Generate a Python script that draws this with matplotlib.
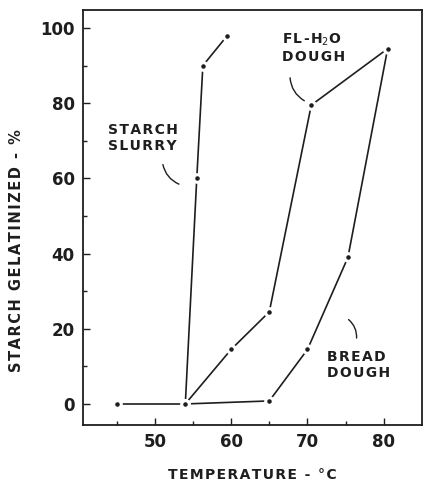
import matplotlib
matplotlib.use("Agg")
import matplotlib.pyplot as plt

# Společný počátek (bez želatinace)
base_t = [45, 54]
base_g = [0, 0]

# Škrobová suspenze
slurry_t = [54, 55.5, 56.3, 59.5]
slurry_g = [0, 60, 90, 98]

# Těsto s vodou
fl_t = [54, 60, 65, 70.5, 80.5]
fl_g = [0, 14.5, 24.5, 79.5, 94.5]

# Chlebové těsto
bread_t = [54, 65, 70, 75.3, 80.5]
bread_g = [0, 0.8, 14.5, 39, 94.5]

INK = '#1e1e1e'
plt.rcParams['font.family'] = ['DejaVu Sans']


def spaced(s):
    """Proloží písmena vlasovou mezerou (jako šablonové písmo)"""
    return '\u200a'.join(s)


fig = plt.figure(figsize=(4.24, 4.86), dpi=100)
ax = fig.add_axes([83 / 424, 1 - 425 / 486, 339 / 424, 415 / 486])

style = dict(color=INK, lw=1.2, marker='o', ms=5.5, mfc=INK,
             mec='white', mew=2.2, zorder=3)
for t, g in [(slurry_t, slurry_g), (fl_t, fl_g), (bread_t, bread_g)]:
    ax.plot(t, g, **style)
ax.plot(base_t, base_g, **style)

ax.set_xlim(40.6, 85)
ax.set_ylim(-5.6, 104.8)
ax.set_xticks([50, 60, 70, 80])
ax.set_xticks([45, 55, 65, 75], minor=True)
ax.set_yticks([0, 20, 40, 60, 80, 100])
ax.set_yticks([10, 30, 50, 70, 90], minor=True)
ax.tick_params(direction='in', length=5, width=1, colors=INK,
               labelsize=12, pad=6)
ax.tick_params(which='minor', direction='in', length=3, width=1, colors=INK)
for lab in ax.get_xticklabels() + ax.get_yticklabels():
    lab.set_fontweight('bold')
for sp in ax.spines.values():
    sp.set_color(INK)
    sp.set_linewidth(1.3)

ax.set_xlabel(spaced('TEMPERATURE - °C'), fontsize=10, fontweight='bold',
              color=INK, labelpad=12)
ax.set_ylabel(spaced('STARCH GELATINIZED - %'), fontsize=10.5,
              fontweight='bold', color=INK)
ax.yaxis.set_label_coords(-0.174, 0.42)

# Popisky křivek
txt = dict(fontsize=10, fontweight='bold', color=INK, linespacing=1.2,
           va='top', ha='left')
ax.text(43.9, 74.8, spaced('STARCH') + '\n' + spaced('SLURRY'), **txt)
ax.text(66.7, 99, spaced('FL-H') + '$_2$' + spaced('O') + '\n'
        + spaced('DOUGH'), **txt)
ax.text(72.5, 14.4, spaced('BREAD') + '\n' + spaced('DOUGH'), **txt)

arrow = dict(arrowstyle='-', color=INK, lw=1)
ax.annotate('', xy=(53.5, 58.2), xytext=(51.0, 64.4),
            arrowprops=dict(connectionstyle='arc3,rad=0.3', **arrow))
ax.annotate('', xy=(69.9, 80.3), xytext=(67.7, 87.5),
            arrowprops=dict(connectionstyle='arc3,rad=0.3', **arrow))
ax.annotate('', xy=(76.4, 16.8), xytext=(75.1, 22.9),
            arrowprops=dict(connectionstyle='arc3,rad=-0.3', **arrow))

fig.savefig('out.png', dpi=100)
